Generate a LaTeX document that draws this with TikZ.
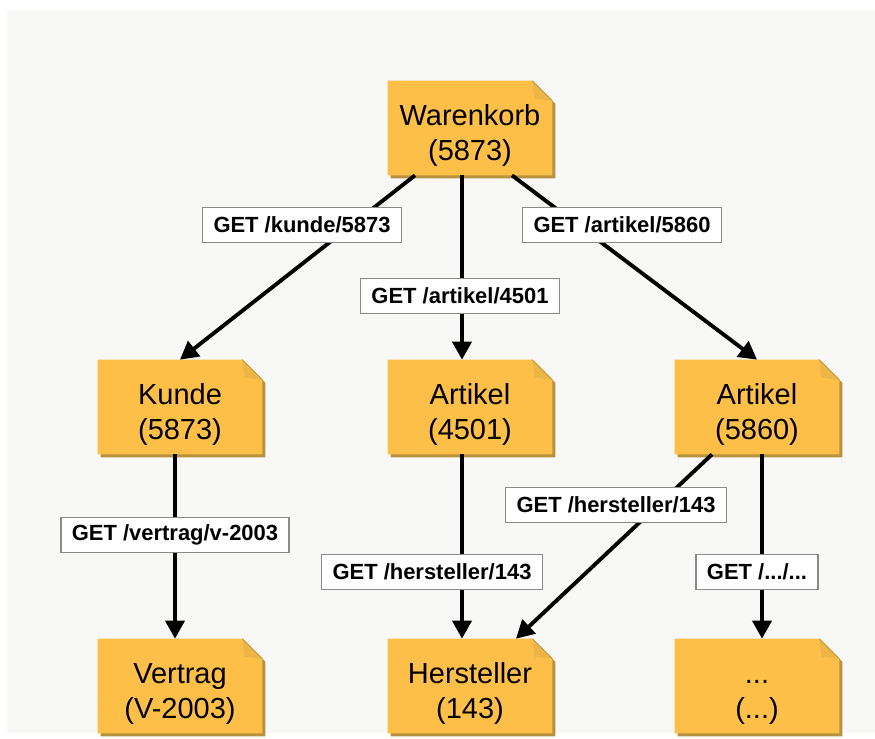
\documentclass[tikz,border=0pt]{standalone}
\usepackage{fontspec}
\setmainfont{Liberation Sans}
\usetikzlibrary{arrows.meta,calc,backgrounds}
\definecolor{boxyellow}{HTML}{FDBF47}
\definecolor{boxshade}{HTML}{B8923E}
\definecolor{foldyellow}{HTML}{EDB446}
\definecolor{panelgray}{HTML}{F8F8F6}
\definecolor{lblline}{HTML}{8A8A8A}
\newcommand\topgap{\rule{0pt}{20pt}}
\tikzset{
  res/.style={minimum width=3.28cm,minimum height=1.88cm,align=center,inner sep=0pt,font=\fontsize{16.5}{20}\selectfont},
  getlbl/.style={draw=lblline,line width=0.8pt,fill=white,minimum height=0.7cm,inner xsep=0.22cm,font=\bfseries\fontsize{12.5}{15}\selectfont},
  link/.style={line width=2.2pt,-{Triangle[length=0.36cm,width=0.38cm]}}
}
\begin{document}
\begin{tikzpicture}[x=0.02cm,y=-0.02cm]
\useasboundingbox (0,0) rectangle (875,738);
\node[res] (wk) at (470,128) {\topgap Warenkorb\\(5873)};
\node[res] (kunde) at (180,407) {\topgap Kunde\\(5873)};
\node[res] (art1) at (470,407) {\topgap Artikel\\(4501)};
\node[res] (art2) at (757,407) {\topgap Artikel\\(5860)};
\node[res] (vertrag) at (180,686) {\topgap Vertrag\\(V-2003)};
\node[res] (herst) at (470,686) {\topgap Hersteller\\(143)};
\node[res] (more) at (757,686) {\topgap ...\\(...)};
\begin{scope}[on background layer]
\fill[panelgray] (7,10) rectangle (875,733);
\foreach \n in {wk,kunde,art1,art2,vertrag,herst,more} {
  \fill[boxshade] ($(\n.south west)+(3,3)$) -- ($(\n.south east)+(3,3)$) -- ($(\n.north east)+(3,23)$) -- ($(\n.north east)+(-17,3)$) -- ($(\n.north west)+(3,3)$) -- cycle;
  \fill[boxyellow] (\n.south west) -- (\n.south east) -- ($(\n.north east)+(0,20)$) -- ($(\n.north east)+(-20,0)$) -- (\n.north west) -- cycle;
  \fill[foldyellow] ($(\n.north east)+(-20,0)$) -- ($(\n.north east)+(0,20)$) -- ($(\n.north east)+(-18,18)$) -- cycle;
  \draw[boxshade,line width=0.4pt] ($(\n.north east)+(-20,0)$) -- ($(\n.north east)+(0,20)$);
}
\end{scope}
\draw[link] ($(wk.south)+(-55,0)$) -- (kunde.north);
\draw[link] ($(wk.south)+(-8,0)$) -- ($(art1.north)+(-8,0)$);
\draw[link] ($(wk.south)+(42,0)$) -- (art2.north);
\draw[link] ($(kunde.south)+(-5,0)$) -- ($(vertrag.north)+(-5,0)$);
\draw[link] ($(art1.south)+(-8,0)$) -- ($(herst.north)+(-8,0)$);
\draw[link] ($(art2.south)+(-45,0)$) -- ($(herst.north)+(46,0)$);
\draw[link] ($(art2.south)+(5,0)$) -- ($(more.north)+(5,0)$);
\node[getlbl] (l1) at (302,225) {GET /kunde/5873};
\node[getlbl] (l2) at (460,296) {GET /artikel/4501};
\node[getlbl] (l3) at (622,225) {GET /artikel/5860};
\node[getlbl] (l4) at (175,535) {GET /vertrag/v-2003};
\node[getlbl] (l5) at (432,572) {GET /hersteller/143};
\node[getlbl] (l6) at (616,505) {GET /hersteller/143};
\node[getlbl] (l7) at (757,572) {GET /.../...};
\end{tikzpicture}
\end{document}
